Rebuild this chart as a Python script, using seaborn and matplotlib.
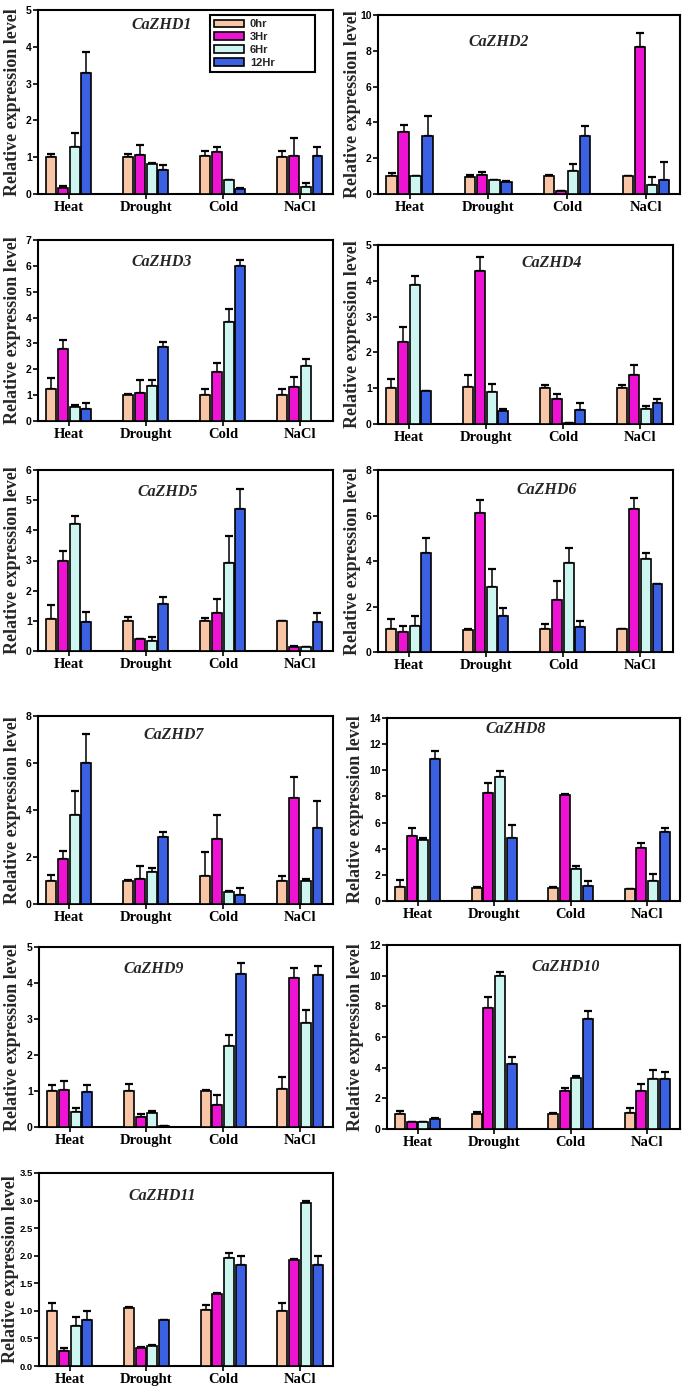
import numpy as np
import pandas as pd
import matplotlib
matplotlib.use("Agg")
import matplotlib.pyplot as plt
from matplotlib.container import BarContainer
import seaborn as sns

sns.set_style("ticks")

conditions = ["Heat", "Drought", "Cold", "NaCl"]
times = ["0hr", "3Hr", "6Hr", "12Hr"]
colors = ["#F8C6A6", "#EE12D2", "#CDF6F1", "#3B60E2"]

genes = ["CaZHD1", "CaZHD2", "CaZHD3", "CaZHD4", "CaZHD5", "CaZHD6",
         "CaZHD7", "CaZHD8", "CaZHD9", "CaZHD10", "CaZHD11"]

# values[gene] rows = conditions (Heat, Drought, Cold, NaCl), cols = times (0,3,6,12 h)
zhd1_val = [[1.0, 0.17, 1.29, 3.3], [1.0, 1.07, 0.81, 0.66], [1.04, 1.14, 0.37, 0.14], [1.0, 1.04, 0.19, 1.04]]
zhd1_err = [[0.09, 0.05, 0.36, 0.55], [0.1, 0.27, 0.02, 0.12], [0.14, 0.15, 0.0, 0.02], [0.18, 0.48, 0.12, 0.23]]
zhd2_val = [[1.0, 3.46, 1.0, 3.22], [0.97, 1.04, 0.76, 0.69], [0.99, 0.15, 1.26, 3.25], [0.99, 8.23, 0.5, 0.78]]
zhd2_err = [[0.18, 0.39, 0.02, 1.15], [0.08, 0.2, 0.0, 0.03], [0.09, 0.02, 0.39, 0.56], [0.0, 0.78, 0.45, 0.99]]
zhd3_val = [[1.24, 2.78, 0.55, 0.45], [1.0, 1.07, 1.37, 2.87], [1.02, 1.89, 3.81, 6.0], [1.02, 1.33, 2.13, np.nan]]
zhd3_err = [[0.41, 0.35, 0.07, 0.26], [0.04, 0.51, 0.21, 0.17], [0.22, 0.36, 0.52, 0.22], [0.23, 0.38, 0.25, 0.0]]
zhd4_val = [[1.0, 2.3, 3.88, 0.91], [1.02, 4.26, 0.88, 0.37], [1.0, 0.71, 0.04, 0.4], [1.0, 1.36, 0.43, 0.59]]
zhd4_err = [[0.25, 0.4, 0.26, 0.0], [0.36, 0.4, 0.24, 0.06], [0.1, 0.13, 0.0, 0.19], [0.1, 0.28, 0.07, 0.12]]
zhd5_val = [[1.05, 3.0, 4.2, 0.97], [0.99, 0.39, 0.33, 1.56], [1.0, 1.25, 2.93, 4.7], [1.0, 0.14, 0.12, 0.97]]
zhd5_err = [[0.47, 0.33, 0.28, 0.33], [0.15, 0.0, 0.12, 0.22], [0.08, 0.46, 0.88, 0.66], [0.0, 0.02, 0.0, 0.28]]
zhd6_val = [[1.03, 0.88, 1.15, 4.35], [0.98, 6.1, 2.85, 1.6], [1.0, 2.3, 3.9, 1.1], [1.0, 6.3, 4.1, 3.0]]
zhd6_err = [[0.4, 0.25, 0.45, 0.65], [0.03, 0.6, 0.8, 0.35], [0.25, 0.8, 0.65, 0.25], [0.02, 0.45, 0.25, 0.0]]
zhd7_val = [[1.0, 1.9, 3.8, 6.0], [1.0, 1.05, 1.35, 2.85], [1.2, 2.75, 0.5, 0.4], [1.0, 4.5, 1.0, 3.25]]
zhd7_err = [[0.25, 0.35, 1.0, 1.25], [0.03, 0.55, 0.2, 0.2], [1.0, 1.05, 0.05, 0.3], [0.2, 0.9, 0.05, 1.15]]
zhd8_val = [[1.1, 5.0, 4.7, 10.9], [1.0, 8.25, 9.5, 4.8], [1.0, 8.1, 2.45, 1.15], [0.95, 4.05, 1.5, 5.25]]
zhd8_err = [[0.5, 0.6, 0.1, 0.6], [0.1, 0.8, 0.45, 1.0], [0.1, 0.05, 0.25, 0.4], [0.0, 0.35, 0.55, 0.35]]
zhd9_val = [[1.0, 1.03, 0.43, 0.97], [1.0, 0.28, 0.4, 0.03], [1.0, 0.6, 2.25, 4.25], [1.05, 4.15, 2.9, 4.22]]
zhd9_err = [[0.18, 0.25, 0.1, 0.2], [0.2, 0.08, 0.05, 0.0], [0.02, 0.3, 0.3, 0.3], [0.35, 0.28, 0.35, 0.25]]
zhd10_val = [[1.0, 0.45, 0.45, 0.65], [1.0, 7.9, 10.0, 4.25], [1.0, 2.5, 3.35, 7.2], [1.05, 2.5, 3.25, 3.25]]
zhd10_err = [[0.15, 0.0, 0.0, 0.05], [0.1, 0.7, 0.25, 0.45], [0.05, 0.15, 0.1, 0.5], [0.3, 0.45, 0.6, 0.5]]
zhd11_val = [[1.0, 0.27, 0.73, 0.84], [1.06, 0.32, 0.37, 0.84], [1.01, 1.31, 1.95, 1.83], [1.0, 1.93, 2.95, 1.83]]
zhd11_err = [[0.15, 0.05, 0.15, 0.16], [0.01, 0.03, 0.01, 0.0], [0.09, 0.02, 0.1, 0.17], [0.15, 0.01, 0.04, 0.17]]

values = [zhd1_val, zhd2_val, zhd3_val, zhd4_val, zhd5_val, zhd6_val,
          zhd7_val, zhd8_val, zhd9_val, zhd10_val, zhd11_val]
errors = [zhd1_err, zhd2_err, zhd3_err, zhd4_err, zhd5_err, zhd6_err,
          zhd7_err, zhd8_err, zhd9_err, zhd10_err, zhd11_err]
ymax = [5, 10, 7, 5, 6, 8, 8, 14, 5, 12, 3.5]
ystep = [1, 2, 1, 1, 1, 2, 2, 2, 1, 2, 0.5]

# layout (pixels): left, right, top, bottom
W, H = 685, 1393
boxes = [(38, 333, 10, 194), (378, 680, 15, 194),
         (38, 333, 240, 421), (378, 673, 245, 424),
         (38, 333, 470, 651), (378, 673, 470, 652),
         (38, 333, 716, 904), (387, 680, 718, 901),
         (39, 333, 947, 1127), (387, 680, 945, 1129),
         (39, 333, 1173, 1366)]
label_x_px = [21, 361, 21, 361, 21, 361, 21, 364, 21, 364, 19]
title_pos = [(0.42, 0.92), (0.40, 0.85), (0.42, 0.88), (0.59, 0.90), (0.44, 0.88),
             (0.57, 0.89), (0.46, 0.90), (0.44, 0.94), (0.39, 0.88), (0.61, 0.88),
             (0.42, 0.88)]

serif = ["Liberation Serif", "DejaVu Serif"]
narrow = ["Liberation Sans Narrow", "Liberation Sans", "DejaVu Sans"]
sans = ["Liberation Sans", "DejaVu Sans"]

fig = plt.figure(figsize=(W / 100, H / 100), dpi=100)

for i, g in enumerate(genes):
    l, r, t, b = boxes[i]
    ax = fig.add_axes([l / W, 1 - b / H, (r - l) / W, (b - t) / H])
    rows = []
    for ci, c in enumerate(conditions):
        for ti, tm in enumerate(times):
            rows.append({"cond": c, "time": tm, "val": values[i][ci][ti], "err": errors[i][ci][ti]})
    df = pd.DataFrame(rows)
    sns.barplot(data=df, x="cond", y="val", hue="time", order=conditions, hue_order=times,
                palette=colors, width=0.61, gap=0.15, edgecolor="black", linewidth=1.2,
                errorbar=None, saturation=1, ax=ax, legend=(i == 0), zorder=3)
    # upper error bars placed on the drawn bars
    bar_conts = [c for c in ax.containers if isinstance(c, BarContainer)]
    for ti, cont in enumerate(bar_conts):
        for p in list(cont.patches):
            h = p.get_height()
            if not np.isfinite(h):
                continue
            xc = p.get_x() + p.get_width() / 2
            ci = int(round(xc))
            e = errors[i][ci][ti]
            ax.errorbar(xc, h, yerr=[[0], [e]], fmt="none", ecolor="black",
                        elinewidth=1.1, capsize=2.6, capthick=1.6, zorder=2)
    ax.set_xlim(-0.40, 3.43)
    ax.set_ylim(0, ymax[i])
    ticks = np.arange(0, ymax[i] + 1e-9, ystep[i])
    ax.set_yticks(ticks)
    if ystep[i] < 1:
        ax.set_yticklabels([f"{v:.1f}" for v in ticks])
        tsize = 6.8
    else:
        ax.set_yticklabels([f"{int(v)}" for v in ticks])
        tsize = 7.5
    for lab in ax.get_yticklabels():
        lab.set_fontfamily(narrow)
        lab.set_fontweight("bold")
        lab.set_fontstretch("condensed")
        lab.set_fontsize(tsize)
    ax.set_xticks(range(4))
    ax.set_xticklabels(conditions, fontfamily=serif, fontweight="bold", fontsize=10.5)
    ax.set_xlabel("")
    ax.set_ylabel("Relative expression level", fontfamily=serif, fontweight="bold",
                  fontsize=13)
    ax.yaxis.set_label_coords((label_x_px[i] - l) / (r - l), 0.5)
    ax.tick_params(axis="both", direction="out", length=3.5, width=1.2, colors="black")
    ax.tick_params(axis="y", pad=1)
    ax.tick_params(axis="x", pad=1.5)
    for s in ax.spines.values():
        s.set_visible(True)
        s.set_linewidth(1.5)
        s.set_color("black")
    ax.text(title_pos[i][0], title_pos[i][1], g, transform=ax.transAxes, ha="center",
            va="center", fontfamily=serif, fontweight="bold", fontstyle="italic", fontsize=11.5)
    if i == 0:
        handles, labels = ax.get_legend_handles_labels()
        x0 = (210 - l) / (r - l)
        x1 = (315 - l) / (r - l)
        ytop = 1 - (15 - t) / (b - t)
        leg = ax.legend(handles, labels, loc="upper left",
                        bbox_to_anchor=(x0, ytop - 0.3, x1 - x0, 0.3), mode="expand",
                        frameon=True, fancybox=False, edgecolor="black", framealpha=1,
                        handlelength=2.7, handleheight=0.7, handletextpad=0.5,
                        labelspacing=0.25, borderpad=0.4, borderaxespad=0,
                        prop={"family": sans, "weight": "bold", "size": 8})
        leg.get_frame().set_linewidth(1.5)
        leg.set_zorder(5)

fig.savefig("out.png", dpi=100)
